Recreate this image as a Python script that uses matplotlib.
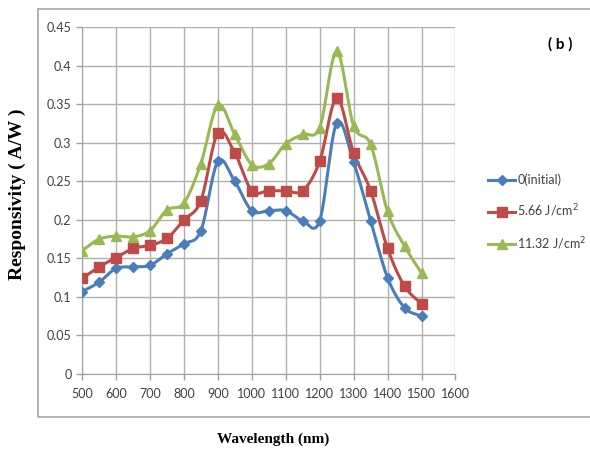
import matplotlib
matplotlib.use("Agg")
import matplotlib.pyplot as plt
import numpy as np
from matplotlib.patches import Rectangle

# wavelength (nm)
wavelength = [500, 550, 600, 650, 700, 750, 800, 850, 900, 950, 1000, 1050,
              1100, 1150, 1200, 1250, 1300, 1350, 1400, 1450, 1500]

# responsivity (A/W) for each dose
resp_initial = [0.107, 0.119, 0.137, 0.139, 0.141, 0.156, 0.169, 0.186, 0.276,
                0.250, 0.212, 0.212, 0.212, 0.199, 0.199, 0.326, 0.275, 0.199,
                0.125, 0.086, 0.075]
resp_566 = [0.124, 0.139, 0.151, 0.163, 0.167, 0.176, 0.200, 0.225, 0.313,
            0.287, 0.238, 0.238, 0.238, 0.238, 0.276, 0.358, 0.287, 0.238,
            0.163, 0.114, 0.091]
resp_1132 = [0.160, 0.175, 0.179, 0.178, 0.186, 0.213, 0.222, 0.273, 0.349,
             0.311, 0.272, 0.273, 0.299, 0.311, 0.320, 0.419, 0.322, 0.298,
             0.211, 0.166, 0.131]

labels = ["0(initial)", "5.66 J/cm$^2$", "11.32 J/cm$^2$"]
x_ticks = [500, 600, 700, 800, 900, 1000, 1100, 1200, 1300, 1400, 1500, 1600]
y_ticks = [0, 0.05, 0.1, 0.15, 0.2, 0.25, 0.3, 0.35, 0.4, 0.45]
y_tick_labels = ["0", "0.05", "0.1", "0.15", "0.2", "0.25", "0.3", "0.35",
                 "0.4", "0.45"]


def smooth(x, y, n=12):
    """Catmull-Rom curve through the points, like Excel's smoothed lines."""
    x = np.asarray(x, float)
    y = np.asarray(y, float)
    px = np.concatenate([[2 * x[0] - x[1]], x, [2 * x[-1] - x[-2]]])
    py = np.concatenate([[2 * y[0] - y[1]], y, [2 * y[-1] - y[-2]]])
    t = np.linspace(0, 1, n, endpoint=False)
    xs, ys = [], []
    for i in range(1, len(px) - 2):
        for p, out in ((px, xs), (py, ys)):
            p0, p1, p2, p3 = p[i - 1], p[i], p[i + 1], p[i + 2]
            out.extend(0.5 * (2 * p1 + (-p0 + p2) * t
                              + (2 * p0 - 5 * p1 + 4 * p2 - p3) * t ** 2
                              + (-p0 + 3 * p1 - 3 * p2 + p3) * t ** 3))
    xs.append(x[-1])
    ys.append(y[-1])
    return xs, ys


plt.rcParams['font.family'] = ['Lato', 'DejaVu Sans']
fig = plt.figure(figsize=(5.9, 4.5), dpi=100)

# chart area border
fig.patches.append(Rectangle((0.064, 0.073), 1.0, 0.907, transform=fig.transFigure,
                             fill=False, edgecolor="#a6a6a6", linewidth=1.2))

ax = fig.add_axes([0.139, 0.169, 0.633, 0.770])

series = [
    (resp_initial, "#4a7ebb", "D", 5.5),
    (resp_566, "#be4b48", "s", 7),
    (resp_1132, "#98b954", "^", 7.5),
]
handles = []
for (vals, color, marker, ms), label in zip(series, labels):
    sx, sy = smooth(wavelength, vals)
    ax.plot(sx, sy, color=color, linewidth=2.2, zorder=3)
    ax.plot(wavelength, vals, linestyle="none", marker=marker, markersize=ms,
            color=color, zorder=4)
    h, = ax.plot([], [], color=color, linewidth=2.2, marker=marker,
                 markersize=ms, label=label)
    handles.append(h)

ax.set_xlim(500, 1600)
ax.set_ylim(0, 0.45)
ax.set_xticks(x_ticks)
ax.set_yticks(y_ticks)
ax.set_yticklabels(y_tick_labels)
ax.grid(True, color="#b0b0b0", linewidth=1.0)
ax.set_axisbelow(True)
for side in ("top", "right"):
    ax.spines[side].set_visible(False)
for side in ("left", "bottom"):
    ax.spines[side].set_color("#a0a0a0")
ax.tick_params(axis="both", colors="#a0a0a0", labelcolor="#404040",
               labelsize=9, length=4, width=1.0)
ax.tick_params(axis="x", pad=6)

ax.legend(handles=handles, loc="center left", bbox_to_anchor=(0.827, 0.527),
          bbox_transform=fig.transFigure, borderaxespad=0, borderpad=0,
          frameon=False, fontsize=9, handlelength=2.2, handletextpad=0.15,
          labelspacing=1.3, labelcolor="#404040")

fig.text(0.03, 0.569, "Responsivity ( A/W )", rotation=90, ha="center",
         va="center", family="Liberation Serif", weight="bold", fontsize=14)
fig.text(0.463, 0.023, "Wavelength (nm)", ha="center", va="center",
         family="Liberation Serif", weight="bold", fontsize=11)
fig.text(0.949, 0.902, "( b )", ha="center", va="center",
         weight="bold", fontsize=11)

fig.savefig("out.png", dpi=100)
